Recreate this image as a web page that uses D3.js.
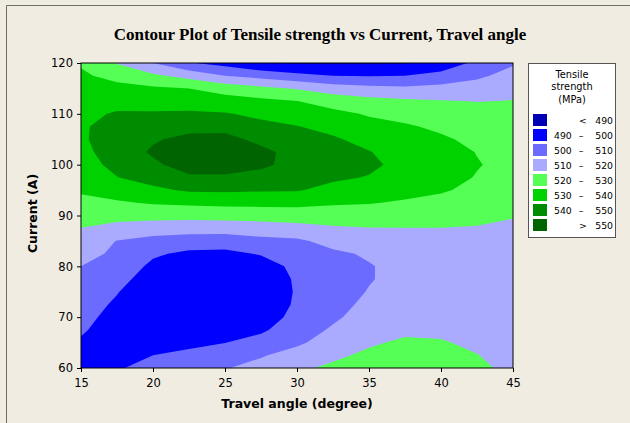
<!DOCTYPE html>
<html>
<head>
<meta charset="utf-8">
<script src="https://cdn.jsdelivr.net/npm/d3@7"></script>
<style>
	body { margin: 0; background: #f0ece2; }
</style>
</head>
<body>
<div id="chart-area"></div>
<script>
/*
*    Contour plot - Tensile strength vs Current, Travel angle
*/

// grid: one column of strengths per travel angle,
// going up the current axis (60 -> 120 A in steps of 2.5)
var travelAngle = [15, 17.5, 20, 22.5, 25, 27.5, 30, 32.5, 35, 37.5, 40, 42.5, 45];
var current = [60, 62.5, 65, 67.5, 70, 72.5, 75, 77.5, 80, 82.5, 85, 87.5, 90,
	92.5, 95, 97.5, 100, 102.5, 105, 107.5, 110, 112.5, 115, 117.5, 120];

var at15   = [495.5, 497.3, 499.1, 500.9, 502.8, 504.6, 506.4, 508.2, 510, 513.3, 516.6, 519.9, 523.7, 527.5, 531.2, 533.5, 535.5, 537.2, 538.5, 538.7, 537.5, 535.5, 533.5, 531.4, 529];
var at17_5 = [499.3, 497.5, 496.5, 496.3, 496.8, 498.5, 500.5, 503.5, 506, 508.2, 509.7, 516.8, 523.3, 528.9, 534.3, 539.8, 543, 545, 545.5, 544, 541, 536.7, 532.6, 527.2, 519.4];
var at20   = [502.5, 500, 497, 494.5, 493, 492.5, 493, 495, 498, 501.4, 507, 514.8, 523.5, 530.9, 538.2, 543.6, 548.5, 551.2, 549, 544.8, 541, 536.3, 531.4, 521.9, 510];
var at22_5 = [505.5, 501.5, 498.5, 495.5, 493, 491.5, 491, 492, 494.5, 498, 505.5, 514.2, 523.3, 531.9, 541.2, 548.8, 553.5, 555, 552.5, 547, 541.4, 535.7, 530, 516.5, 500.8];
var at25   = [509.5, 505, 499.8, 495.5, 492.5, 491, 490.5, 491.5, 493.5, 497.5, 505, 514.2, 523.8, 532.6, 541.5, 548.8, 554, 556, 553, 546.8, 540.7, 534.4, 525.6, 510, 496.5];
var at27_5 = [513, 509.2, 503.5, 498.5, 495, 493, 492.5, 493.5, 495.5, 500.8, 507.4, 515.4, 524.1, 532.8, 540.9, 546.3, 552, 552.5, 547.4, 542.8, 537.8, 532.2, 522.5, 506.5, 490.5];
var at30   = [518.5, 513.5, 508.5, 505.5, 503, 501.5, 501, 501.3, 502.5, 504.5, 508.5, 516.6, 524.8, 532.9, 540.7, 544.5, 546.5, 546.5, 544, 540.3, 535.3, 530.2, 519.2, 502.6, 489];
var at32_5 = [521.5, 518.5, 514, 511.2, 508.5, 507, 506.5, 506.5, 507, 508.5, 512.9, 518.8, 525, 531.2, 537.3, 541.5, 543.5, 543.3, 541.2, 537.2, 532.4, 526.1, 515, 500, 489];
var at35   = [524.5, 521.5, 519, 516.5, 514, 512, 510.4, 509.5, 509.5, 511, 514.5, 519.7, 525.1, 530.5, 534.9, 539.5, 542, 540.4, 536.8, 533.1, 529.1, 523.3, 512.7, 499.5, 489];
var at37_5 = [526, 524.5, 521.2, 518.5, 516.3, 514.5, 513.2, 512.5, 512.5, 513.5, 516, 519.8, 524.4, 529, 532.8, 535.5, 537, 536, 534, 531.2, 526.6, 521.6, 511.9, 500, 489.3];
var at40   = [525.5, 524, 520.8, 518, 516, 514.5, 513.5, 513, 513.2, 514.5, 516.8, 519.9, 523.6, 527.3, 531, 533.3, 534.2, 533.8, 531.5, 528.1, 524.3, 520.6, 512.8, 503.9, 492];
var at42_5 = [522.5, 520.3, 518, 516.5, 515, 514, 513.5, 513.5, 514, 515.2, 517, 519.4, 522.5, 525.3, 527.8, 529.5, 530.5, 529.7, 527.5, 525.2, 522.5, 519.8, 514.1, 508.3, 503];
var at45   = [517, 516, 515, 514, 513.3, 513, 513, 513.2, 514, 515, 516.5, 518.4, 520.5, 523, 525.3, 526.8, 527.4, 527, 525.8, 524.2, 522.3, 520.3, 516.8, 513.2, 509];

var columns = [at15, at17_5, at20, at22_5, at25, at27_5, at30, at32_5, at35, at37_5, at40, at42_5, at45];

var xTicks = [15, 20, 25, 30, 35, 40, 45];
var yTicks = [60, 70, 80, 90, 100, 110, 120];

// contour levels and legend
var levels = [490, 500, 510, 520, 530, 540, 550];
var bandColors = ["#0000b4", "#0000ff", "#6b6bff", "#aaaaff", "#55ff55", "#00d200", "#008c00", "#006400"];
var legendLow  = ["<", "490", "500", "510", "520", "530", "540", ">"];
var legendHigh = ["490", "500", "510", "520", "530", "540", "550", "550"];

var margin = { left: 81, right: 117, top: 63, bottom: 55 };
var width = 630 - margin.left - margin.right;
var height = 423 - margin.top - margin.bottom;

var svg = d3.select("#chart-area")
	.append("svg")
	.attr("width", 630)
	.attr("height", 423)
	.style("display", "block");

svg.append("rect")
	.attr("width", 630)
	.attr("height", 423)
	.attr("fill", "#f0ece2");

// graph border (only top and left show in the crop)
svg.append("path")
	.attr("d", "M6.5,423V5.5H630")
	.attr("fill", "none")
	.attr("stroke", "#6f6f6f");

svg.append("text")
	.attr("x", 320)
	.attr("y", 40)
	.attr("text-anchor", "middle")
	.attr("font-family", "'Liberation Serif', 'Times New Roman', serif")
	.attr("font-weight", "bold")
	.attr("font-size", "17px")
	.text("Contour Plot of Tensile strength vs Current, Travel angle");

var g = svg.append("g")
	.attr("transform", "translate(" + margin.left + ", " + margin.top + ")");

var x = d3.scaleLinear().domain([15, 45]).range([0, width]);
var y = d3.scaleLinear().domain([60, 120]).range([height, 0]);

/* flat grid for d3.contours, row by row from the bottom */
var nx = travelAngle.length, ny = current.length;
var values = [];
current.forEach(function(c, j) {
	columns.forEach(function(col) { values.push(col[j]); });
});

// grid space -> data space (sample points sit on half cells)
var gridX = d3.scaleLinear().domain([0.5, nx - 0.5]).range([travelAngle[0], travelAngle[nx - 1]]);
var gridY = d3.scaleLinear().domain([0.5, ny - 0.5]).range([current[0], current[ny - 1]]);

var path = d3.geoPath(d3.geoTransform({
	point: function(px, py) { this.stream.point(x(gridX(px)), y(gridY(py))); }
}));

var contours = d3.contours()
	.size([nx, ny])
	.thresholds(levels)(values);

g.append("clipPath")
	.attr("id", "plot-clip")
	.append("rect")
	.attr("width", width)
	.attr("height", height);

var plot = g.append("g").attr("clip-path", "url(#plot-clip)");

plot.append("rect")
	.attr("width", width)
	.attr("height", height)
	.attr("fill", bandColors[0]);

plot.selectAll("path")
	.data(contours)
	.enter()
	.append("path")
		.attr("d", path)
		.attr("fill", function(d, i) { return bandColors[i + 1]; });

g.append("rect")
	.attr("width", width)
	.attr("height", height)
	.attr("fill", "none")
	.attr("stroke", "#000");

/* Axes */
var xAxisCall = d3.axisBottom(x).tickValues(xTicks).tickSize(4).tickPadding(7);
g.append("g")
	.attr("class", "x axis")
	.attr("transform", "translate(0, " + height + ")")
	.call(xAxisCall);

var yAxisCall = d3.axisLeft(y).tickValues(yTicks).tickSize(4).tickPadding(4);
g.append("g")
	.attr("class", "y axis")
	.call(yAxisCall);

g.selectAll(".axis .domain").remove();
g.selectAll(".axis text")
	.attr("font-family", "'DejaVu Sans', Tahoma, sans-serif")
	.attr("font-size", "11.5px")
	.attr("fill", "#000");
g.selectAll(".axis line").attr("stroke", "#000");

// axis labels
g.append("text")
	.attr("x", width / 2)
	.attr("y", height + 40)
	.attr("text-anchor", "middle")
	.attr("font-family", "'DejaVu Sans', Tahoma, sans-serif")
	.attr("font-weight", "bold")
	.attr("font-size", "12.5px")
	.text("Travel angle (degree)");

g.append("text")
	.attr("x", -(height / 2) + 2)
	.attr("y", -44)
	.attr("transform", "rotate(-90)")
	.attr("text-anchor", "middle")
	.attr("font-family", "'DejaVu Sans', Tahoma, sans-serif")
	.attr("font-weight", "bold")
	.attr("font-size", "12.5px")
	.text("Current (A)");

/* Legend */
var legend = svg.append("g")
	.attr("transform", "translate(528, 63)")
	.attr("font-family", "'DejaVu Sans', Tahoma, sans-serif");

legend.append("rect")
	.attr("x", 0.5)
	.attr("y", 0.5)
	.attr("width", 87)
	.attr("height", 174)
	.attr("fill", "#fff")
	.attr("stroke", "#555");

legend.selectAll(".legend-title")
	.data(["Tensile", "strength", "(MPa)"])
	.enter()
	.append("text")
		.attr("class", "legend-title")
		.attr("x", 44)
		.attr("y", function(d, i) { return 14.5 + i * 12.5; })
		.attr("text-anchor", "middle")
		.attr("font-size", "9.8px")
		.text(function(d) { return d; });

var rows = legend.selectAll(".legend-row")
	.data(bandColors)
	.enter()
	.append("g")
		.attr("class", "legend-row")
		.attr("transform", function(d, i) { return "translate(0, " + (57 + i * 15) + ")"; });

rows.append("rect")
	.attr("x", 5)
	.attr("y", -6)
	.attr("width", 14)
	.attr("height", 12)
	.attr("fill", function(d) { return d; });

rows.append("text")
	.attr("x", function(d, i) { return (i === 0 || i === 7) ? 55 : 26; })
	.attr("y", 3.5)
	.attr("text-anchor", function(d, i) { return (i === 0 || i === 7) ? "middle" : "start"; })
	.attr("font-size", "9.3px")
	.text(function(d, i) { return legendLow[i]; });

rows.filter(function(d, i) { return i > 0 && i < 7; })
	.append("text")
		.attr("x", 53)
		.attr("y", 3.5)
		.attr("text-anchor", "middle")
		.attr("font-size", "9.3px")
		.text("\u2013");

rows.append("text")
	.attr("x", 85)
	.attr("y", 3.5)
	.attr("text-anchor", "end")
	.attr("font-size", "9.3px")
	.text(function(d, i) { return legendHigh[i]; });
</script>
</body>
</html>
